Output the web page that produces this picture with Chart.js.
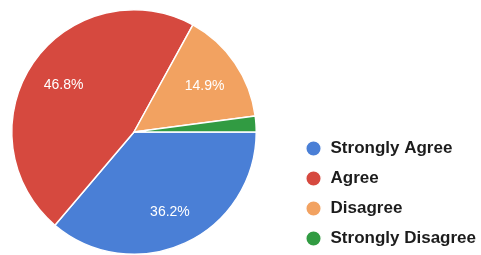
<!DOCTYPE html>
<html>
<head>
<meta charset="utf-8">
<script src="https://cdn.jsdelivr.net/npm/chart.js@4"></script>
<style>
  html, body { margin: 0; padding: 0; background: #fff; }
  #wrap { width: 481px; height: 255px; }
</style>
</head>
<body>
<div id="wrap"><canvas id="pie-chart" width="481" height="255"></canvas></div>
<script>
var categories = ['Strongly Agree', 'Agree', 'Disagree', 'Strongly Disagree'];
var percents = [36.2, 46.8, 14.9, 2.1];
var sliceColors = ['#4a7fd6', '#d6493f', '#f2a261', '#319b42'];

// keep the pie on the left: make the chart area square, nudge legend down a bit
var squareArea = {
    id: 'squareArea',
    afterLayout: function(chart) {
        var a = chart.chartArea;
        a.right = a.left + a.height;
        a.width = a.height;
        chart.legend.top += 5;
        chart.legend.bottom += 5;
    }
};

// percent labels inside the slices
var sliceLabels = {
    id: 'sliceLabels',
    afterDatasetsDraw: function(chart) {
        var ctx = chart.ctx;
        var meta = chart.getDatasetMeta(0);
        var total = percents.reduce(function(a, b) { return a + b; }, 0);
        ctx.save();
        ctx.fillStyle = '#ffffff';
        ctx.font = '14px "Liberation Sans", Arial, sans-serif';
        ctx.textAlign = 'center';
        ctx.textBaseline = 'middle';
        meta.data.forEach(function(arc, i) {
            var pct = percents[i] / total * 100;
            if (pct < 5) return;
            var p = arc.getProps(['x', 'y', 'startAngle', 'endAngle', 'outerRadius'], true);
            var mid = (p.startAngle + p.endAngle) / 2;
            var r = p.outerRadius * 0.7;
            ctx.fillText(pct.toFixed(1) + '%', p.x + Math.cos(mid) * r, p.y + Math.sin(mid) * r + 2);
        });
        ctx.restore();
    }
};

var ctxPie = document.getElementById('pie-chart').getContext('2d');
var pieChart = new Chart(ctxPie, {
    type: 'pie',
    data: {
        labels: categories,
        datasets: [{
            data: percents,
            backgroundColor: sliceColors,
            borderColor: '#ffffff',
            borderWidth: 1.5
        }]
    },
    options: {
        responsive: false,
        animation: false,
        rotation: 90,
        layout: { padding: { left: 11, top: 9, bottom: 0, right: -5 } },
        plugins: {
            tooltip: { enabled: false },
            legend: {
                position: 'right',
                align: 'end',
                labels: {
                    usePointStyle: true,
                    pointStyle: 'circle',
                    boxHeight: 11,
                    padding: 13,
                    color: '#1c1c1c',
                    font: { family: '"Liberation Sans", Arial, sans-serif', size: 17, weight: 'bold' }
                }
            }
        }
    },
    plugins: [squareArea, sliceLabels]
});
</script>
</body>
</html>
